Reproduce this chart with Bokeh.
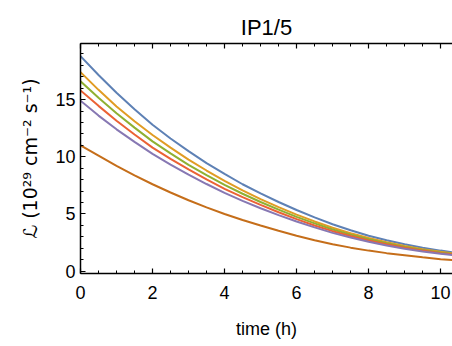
from bokeh.plotting import figure
from bokeh.models import Range1d, LinearAxis, SingleIntervalTicker, CustomJSTickFormatter
from bokeh.embed import file_html
from bokeh.resources import INLINE

# ---- data ----
time_h = [0, 0.5, 1, 1.5, 2, 2.5, 3, 3.5, 4, 4.5, 5, 5.5, 6, 6.5, 7, 7.5, 8, 8.5,
          9, 9.5, 10, 10.5]
lum_blue = [18.8, 17.15, 15.6, 14.15, 12.8, 11.6, 10.5, 9.45, 8.5, 7.6, 6.8, 6.05,
            5.35, 4.7, 4.1, 3.58, 3.1, 2.7, 2.35, 2.05, 1.8, 1.58]
lum_orange = [17.4, 15.85, 14.4, 13.1, 11.9, 10.8, 9.75, 8.8, 7.9, 7.07, 6.3, 5.6,
              4.95, 4.35, 3.8, 3.32, 2.9, 2.53, 2.2, 1.93, 1.7, 1.5]
lum_green = [16.6, 15.15, 13.8, 12.55, 11.35, 10.3, 9.3, 8.4, 7.55, 6.77, 6.05, 5.38,
             4.75, 4.18, 3.65, 3.2, 2.8, 2.44, 2.12, 1.86, 1.64, 1.46]
lum_red = [15.8, 14.45, 13.15, 11.95, 10.8, 9.82, 8.9, 8.02, 7.2, 6.47, 5.8, 5.15,
           4.55, 4.0, 3.5, 3.07, 2.68, 2.35, 2.05, 1.8, 1.58, 1.41]
lum_purple = [14.9, 13.6, 12.4, 11.3, 10.25, 9.32, 8.45, 7.62, 6.85, 6.15, 5.5, 4.9,
              4.35, 3.83, 3.35, 2.94, 2.57, 2.25, 1.97, 1.73, 1.52, 1.36]
lum_darkorange = [11.0, 10.1, 9.2, 8.38, 7.6, 6.88, 6.2, 5.58, 5.0, 4.48, 4.0, 3.53,
                  3.1, 2.7, 2.35, 2.06, 1.8, 1.58, 1.4, 1.22, 1.05, 0.93]

series = [
    (lum_blue, "#5E81B5"),
    (lum_orange, "#E19C24"),
    (lum_green, "#8FB032"),
    (lum_red, "#EB6235"),
    (lum_purple, "#8778B3"),
    (lum_darkorange, "#C56E1A"),
]

FONT = "Liberation Sans"

p = figure(width=452, height=346, output_backend="svg", toolbar_location=None,
           x_range=Range1d(0, 10.33), y_range=Range1d(-0.2, 19.9),
           min_border_left=80, min_border_right=0, min_border_top=43,
           min_border_bottom=73, title="IP1/5")
p.outline_line_color = None
p.grid.visible = False
p.background_fill_color = "white"
p.border_fill_color = "white"

p.title.text_font = FONT
p.title.text_font_size = "22px"
p.title.text_font_style = "normal"
p.title.text_color = "black"
p.title.align = "center"
p.title.offset = 2
p.title.standoff = 7

for vals, col in series:
    p.line(time_h, vals, line_color=col, line_width=2)

def style_axis(ax):
    ax.axis_line_color = "black"
    ax.axis_line_width = 1.5
    ax.major_tick_in = 5
    ax.major_tick_out = 0
    ax.minor_tick_in = 3
    ax.minor_tick_out = 0
    ax.major_tick_line_color = "black"
    ax.minor_tick_line_color = "black"
    ax.major_tick_line_width = 1.2
    ax.minor_tick_line_width = 1
    ax.major_label_text_font = FONT
    ax.major_label_text_font_size = "18px"
    ax.major_label_text_color = "black"
    ax.axis_label_text_font = FONT
    ax.axis_label_text_font_style = "normal"
    ax.axis_label_text_font_size = "18px"
    ax.axis_label_text_color = "black"

p.xaxis.ticker = SingleIntervalTicker(interval=2, num_minor_ticks=4)
p.yaxis.ticker = SingleIntervalTicker(interval=5, num_minor_ticks=5)
style_axis(p.xaxis[0])
style_axis(p.yaxis[0])
p.xaxis.axis_label = "time (h)"
p.yaxis.axis_label = "ℒ (10²⁹ cm⁻² s⁻¹)"
p.yaxis.axis_label_text_font = "DejaVu Sans"
p.yaxis.axis_label_text_font_size = "19px"
p.xaxis.major_label_standoff = 12
p.yaxis.major_label_standoff = 5
p.xaxis.axis_label_standoff = 17
p.yaxis.axis_label_standoff = 11

top = LinearAxis(ticker=SingleIntervalTicker(interval=2, num_minor_ticks=4),
                 formatter=CustomJSTickFormatter(code="return ''"))
style_axis(top)
top.major_label_standoff = 0
p.add_layout(top, "above")

open("out.html", "w").write(file_html(p, INLINE))
